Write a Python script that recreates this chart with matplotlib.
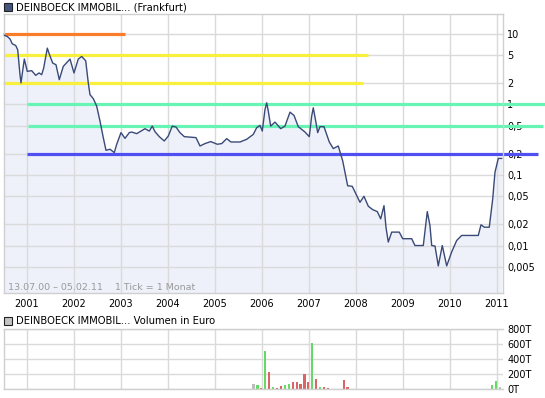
import matplotlib
matplotlib.use('Agg')
import matplotlib.pyplot as plt
from matplotlib.patches import Rectangle

W, H = 545, 398

# ---- price series (fractional year, price in EUR) ----
dates = [2000.496, 2000.581, 2000.638, 2000.687, 2000.760, 2000.802, 2000.851, 2000.872,
         2000.943, 2001.006, 2001.100, 2001.185, 2001.255, 2001.313, 2001.355, 2001.432,
         2001.474, 2001.547, 2001.617, 2001.687, 2001.772, 2001.915, 2002.000, 2002.091,
         2002.164, 2002.249, 2002.304, 2002.340, 2002.411, 2002.483, 2002.553, 2002.623,
         2002.681, 2002.766, 2002.857, 2002.909, 2003.000, 2003.085, 2003.177, 2003.228,
         2003.334, 2003.511, 2003.602, 2003.666, 2003.723, 2003.815, 2003.921, 2004.006,
         2004.091, 2004.170, 2004.255, 2004.347, 2004.596, 2004.681, 2004.787, 2004.909,
         2005.049, 2005.143, 2005.249, 2005.340, 2005.532, 2005.674, 2005.815, 2005.887,
         2005.957, 2006.006, 2006.064, 2006.100, 2006.134, 2006.185, 2006.277, 2006.398,
         2006.489, 2006.596, 2006.681, 2006.772, 2006.915, 2007.006, 2007.057, 2007.091,
         2007.143, 2007.185, 2007.234, 2007.319, 2007.432, 2007.517, 2007.623, 2007.717,
         2007.823, 2007.921, 2008.085, 2008.170, 2008.262, 2008.355, 2008.453, 2008.526,
         2008.596, 2008.638, 2008.687, 2008.760, 2008.921, 2008.994, 2009.185, 2009.255,
         2009.432, 2009.517, 2009.574, 2009.611, 2009.681, 2009.751, 2009.836, 2009.930,
         2010.036, 2010.143, 2010.249, 2010.602, 2010.660, 2010.730, 2010.836, 2010.909,
         2010.957, 2011.028, 2011.100]
prices = [9.7, 9.2, 8.5, 7.25, 6.86, 5.97, 2.65, 2.02,
          4.41, 2.95, 3.02, 2.59, 2.80, 2.65, 3.29, 6.30,
          5.19, 3.87, 3.66, 2.25, 3.47, 4.41, 2.80, 4.41,
          4.80, 4.17, 2.02, 1.38, 1.21, 0.946, 0.581, 0.339,
          0.224, 0.232, 0.208, 0.273, 0.399, 0.331, 0.399, 0.407,
          0.386, 0.454, 0.420, 0.494, 0.412, 0.350, 0.304, 0.357,
          0.494, 0.479, 0.399, 0.350, 0.339, 0.258, 0.279, 0.298,
          0.273, 0.279, 0.328, 0.294, 0.294, 0.321, 0.377, 0.469,
          0.506, 0.420, 0.850, 1.057, 0.804, 0.494, 0.563, 0.454,
          0.494, 0.779, 0.700, 0.485, 0.407, 0.350, 0.684, 0.898,
          0.581, 0.399, 0.485, 0.485, 0.294, 0.237, 0.258, 0.159,
          0.0704, 0.0691, 0.0410, 0.0499, 0.0361, 0.0323, 0.0303, 0.0239,
          0.0368, 0.0182, 0.0112, 0.0155, 0.0155, 0.0125, 0.0125, 0.0100,
          0.0100, 0.0303, 0.0192, 0.0100, 0.00984, 0.00514, 0.0100, 0.00514,
          0.00810, 0.0118, 0.0139, 0.0139, 0.0197, 0.0182, 0.0182, 0.0457,
          0.109, 0.172, 0.172]

# ---- horizontal marker lines ----
level_values = [10, 5, 2, 1, 0.5, 0.2]
level_starts = [2000.49, 2000.51, 2000.49, 2001.00, 2001.02, 2001.00]
level_ends = [2003.085, 2008.255, 2008.15, 2012.02, 2011.98, 2011.87]
level_colors = ['#fa7d2c', '#f8f03c', '#f8f03c', '#66f5b4', '#66f5b4', '#5050f2']

# ---- volume (thousand EUR per month) ----
vol_months = ['2005-10', '2005-11', '2005-12', '2006-01', '2006-02', '2006-03', '2006-04',
              '2006-05', '2006-06', '2006-07', '2006-08', '2006-09', '2006-10', '2006-11',
              '2006-12', '2007-01', '2007-02', '2007-03', '2007-04', '2007-05', '2007-09',
              '2007-10', '2010-11', '2010-12', '2011-01']
vol_values = [67, 54, 18, 512, 229, 31, 18,
              45, 54, 67, 99, 94, 67, 202,
              94, 620, 135, 31, 27, 18, 121,
              31, 58, 102, 22]
vol_dirs = ['n', 'g', 'r', 'g', 'r', 'g', 'r',
            'r', 'g', 'g', 'r', 'r', 'r', 'r',
            'r', 'g', 'r', 'g', 'r', 'r', 'r',
            'r', 'g', 'g', 'n']

years = list(range(2001, 2012))
year_labels = [str(y) for y in years]
price_ticks = [10, 5, 2, 1, 0.5, 0.2, 0.1, 0.05, 0.02, 0.01, 0.005]
price_tick_labels = ['10', '5', '2', '1', '0,5', '0,2', '0,1', '0,05', '0,02', '0,01', '0,005']
vol_ticks = [0, 200, 400, 600, 800]
vol_tick_labels = ['0T', '200T', '400T', '600T', '800T']

title_main = 'DEINBOECK IMMOBIL... (Frankfurt)'
title_vol = 'DEINBOECK IMMOBIL... Volumen in Euro'
info_text = '13.07.00 \u2013 05.02.11    1 Tick = 1 Monat'

plt.rcParams['font.family'] = ['DejaVu Sans']
GRID = '#dadada'
XMIN, XMAX = 2000.5, 2011.128
YMIN, YMAX = 0.002123, 19.2


def fx(px):
    return px / W


def fy(py):
    return 1 - py / H


fig = plt.figure(figsize=(W / 100, H / 100), dpi=100)
fig.patch.set_facecolor('white')

# main price axes
ax = fig.add_axes([fx(3.5), fy(293), fx(503) - fx(3.5), fy(14) - fy(293)])
ax.set_yscale('log')
ax.set_xlim(XMIN, XMAX)
ax.set_ylim(YMIN, YMAX)
ax.fill_between(dates, prices, YMIN, color='#eef1fa', lw=0, zorder=0.5)
for v, s, e, c in zip(level_values, level_starts, level_ends, level_colors):
    ax.plot([s, e], [v, v], color=c, lw=2.3, solid_capstyle='butt', clip_on=False, zorder=2)
ax.plot(dates, prices, color='#3a4a78', lw=1.0, zorder=3)
ax.set_xticks(years)
ax.set_xticklabels(year_labels)
ax.yaxis.tick_right()
ax.set_yticks(price_ticks)
ax.set_yticklabels(price_tick_labels)
ax.minorticks_off()
ax.tick_params(axis='both', length=0, labelsize=7, colors='black')
ax.tick_params(axis='x', pad=4)
ax.tick_params(axis='y', pad=3)
for t in ax.get_yticklabels():
    t.set_horizontalalignment('left')
ax.grid(True, color=GRID, lw=1.0)
for sp in ax.spines.values():
    sp.set_color('#cfcfcf')
    sp.set_linewidth(1.0)

# volume axes
av = fig.add_axes([fx(3.5), fy(389), fx(503) - fx(3.5), fy(329) - fy(389)])
av.set_xlim(XMIN, XMAX)
av.set_ylim(0, 800)
dir_colors = {'g': '#66d966', 'r': '#dc6464', 'n': '#bdbdbd'}
vx = [int(m[:4]) + (int(m[5:]) - 1) / 12 + 0.07 for m in vol_months]
av.bar(vx, vol_values, width=0.045, color=[dir_colors[d] for d in vol_dirs], zorder=2)
av.set_xticks(years)
av.set_xticklabels([])
av.yaxis.tick_right()
av.set_yticks(vol_ticks)
av.set_yticklabels(vol_tick_labels)
av.tick_params(axis='both', length=0, labelsize=7, colors='black')
av.tick_params(axis='y', pad=3)
av.grid(True, color=GRID, lw=1.0)
for sp in av.spines.values():
    sp.set_color('#cfcfcf')
    sp.set_linewidth(1.0)
av.spines['right'].set_visible(False)

# titles with icons
fig.patches.append(Rectangle((fx(3.5), fy(11)), fx(8), fy(3) - fy(11), transform=fig.transFigure,
                             facecolor='#44557f', edgecolor='#222222', lw=0.8))
fig.text(fx(15.5), fy(7), title_main, fontsize=7.2, va='center', ha='left', color='black')
fig.patches.append(Rectangle((fx(3.5), fy(325)), fx(8), fy(317) - fy(325), transform=fig.transFigure,
                             facecolor='#c4c4c4', edgecolor='#222222', lw=0.8))
fig.text(fx(15.5), fy(321), title_vol, fontsize=7.2, va='center', ha='left', color='black')
fig.text(fx(8), fy(287), info_text, fontsize=6.8, va='center', ha='left', color='#9a9a9a')

fig.savefig('out.png', dpi=100)
